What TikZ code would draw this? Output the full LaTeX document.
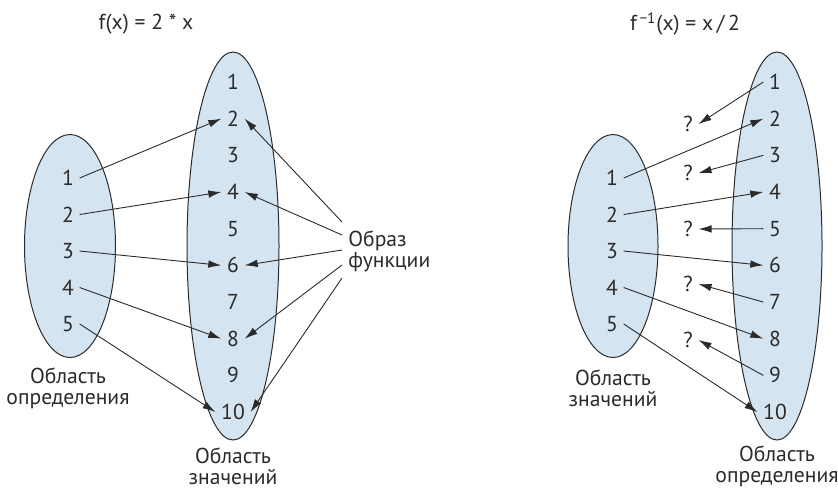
\documentclass[tikz,border=0pt]{standalone}
\usepackage{fontspec}
\setmainfont{PT Sans}
\usepackage{xcolor}
\usepackage{tikz}
\usetikzlibrary{shapes.geometric, arrows.meta, positioning}
\definecolor{SetBlue}{HTML}{D5E4F1}
\definecolor{InkDark}{HTML}{2B2B2B}

\begin{document}
\begin{tikzpicture}[x=0.5pt, y=-0.5pt, font=\fontsize{10.8}{10.6}\selectfont, text=InkDark,
    setshape/.style={ellipse, draw=InkDark, fill=SetBlue, line width=0.5pt, inner sep=0pt},
    elem/.style={inner sep=2.7pt},
    setlabel/.style={align=center, inner sep=1pt},
    map/.style={draw=InkDark, line width=0.45pt, -{Latex[length=6.5pt, width=3.8pt]}}]
  \useasboundingbox (0,0) rectangle (838,489);

  % f(x) = 2x
  \node (titlef) at (146,24) {f(x) = 2 * x};
  \node[setshape, minimum width=45.5pt, minimum height=111.5pt] (domf) at (70,246) {};
  \node[setshape, minimum width=46pt, minimum height=194pt] (codf) at (233,246) {};
  \foreach \i in {1,...,5}
    \node[elem] (a\i) at (68,{178+36.5*(\i-1)}) {\i};
  \foreach \i in {1,...,10}
    \node[elem] (b\i) at (233,{82+36.67*(\i-1)}) {\i};
  \foreach \i in {1,...,5} {
    \pgfmathtruncatemacro\j{2*\i}
    \draw[map] (a\i.east) -- (b\j.west);
  }
  \node[align=left, anchor=west, inner sep=3pt] (img) at (342,251) {Образ\\функции};
  \draw[map] ([yshift=14.5pt]img.west) -- (b2.east);
  \draw[map] ([yshift=8pt]img.west) -- (b4.east);
  \draw[map] ([yshift=0.5pt]img.west) -- (b6.east);
  \draw[map] ([yshift=-7pt]img.west) -- (b8.east);
  \draw[map] ([yshift=-13.5pt]img.west) -- (b10.east);
  \node[setlabel] (domflabel) at (68,388) {Область\\определения};
  \node[setlabel] (codflabel) at (233,466) {Область\\значений};

  % f^{-1}(x) = x/2
  \node (titleinv) at (685,24) {f\textsuperscript{\,−1}(x) = x\,/\,2};
  \node[setshape, minimum width=45pt, minimum height=111.5pt] (dominv) at (613,246) {};
  \node[setshape, minimum width=45pt, minimum height=194pt] (codinv) at (777,246) {};
  \foreach \i in {1,...,5}
    \node[elem] (c\i) at (612,{178+36.5*(\i-1)}) {\i};
  \foreach \i in {1,...,10}
    \node[elem] (d\i) at (775,{82+36.67*(\i-1)}) {\i};
  \foreach \i/\y in {1/124,2/173,3/229,4/284,5/340}
    \node[elem] (q\i) at (688,\y) {?};
  \foreach \i in {1,...,5} {
    \pgfmathtruncatemacro\j{2*\i}
    \pgfmathtruncatemacro\k{2*\i-1}
    \draw[map] (c\i.east) -- (d\j.west);
    \draw[map] (d\k.west) -- (q\i.east);
  }
  \node[setlabel] (dominvlabel) at (613,388) {Область\\значений};
  \node[setlabel] (codinvlabel) at (777,466) {Область\\определения};
\end{tikzpicture}
\end{document}
